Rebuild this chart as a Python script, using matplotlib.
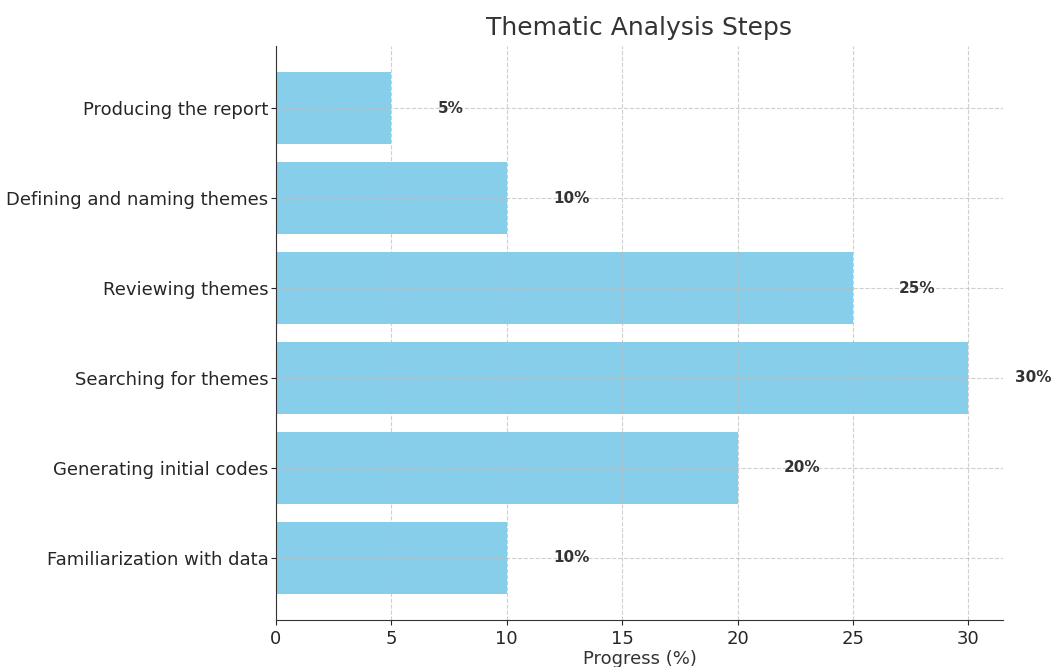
import matplotlib
matplotlib.use("Agg")
from matplotlib import pyplot as plt

# thematic analysis phases, bottom to top
steps = ["Familiarization with data", "Generating initial codes",
         "Searching for themes", "Reviewing themes",
         "Defining and naming themes", "Producing the report"]
progress = [10, 20, 30, 25, 10, 5]

txt = "#333333"

fig = plt.figure(figsize=(10.51, 6.67), dpi=100)
ax = fig.add_axes([0.2626, 0.0705, 0.6917, 0.8605])

bars = ax.barh(steps, progress, color="skyblue", height=0.8)
ax.set_axisbelow(False)
ax.grid(True, linestyle="--", color="#bbbbbb", alpha=0.7, linewidth=0.8)

for b, v in zip(bars, progress):
    ax.text(v + 2, b.get_y() + b.get_height() / 2, f"{v}%",
            va="center", ha="left", fontsize=11, fontweight="bold", color=txt)

ax.set_title("Thematic Analysis Steps", fontsize=18, color=txt, pad=8)
ax.set_xlabel("Progress (%)", fontsize=13, color=txt, labelpad=2)
ax.tick_params(axis="both", labelsize=13, colors="#262626")
ax.tick_params(axis="y", pad=2)
for s in ["top", "right"]:
    ax.spines[s].set_visible(False)
for s in ["left", "bottom"]:
    ax.spines[s].set_color("#333333")
    ax.spines[s].set_zorder(3)

fig.savefig("out.png", dpi=100)
